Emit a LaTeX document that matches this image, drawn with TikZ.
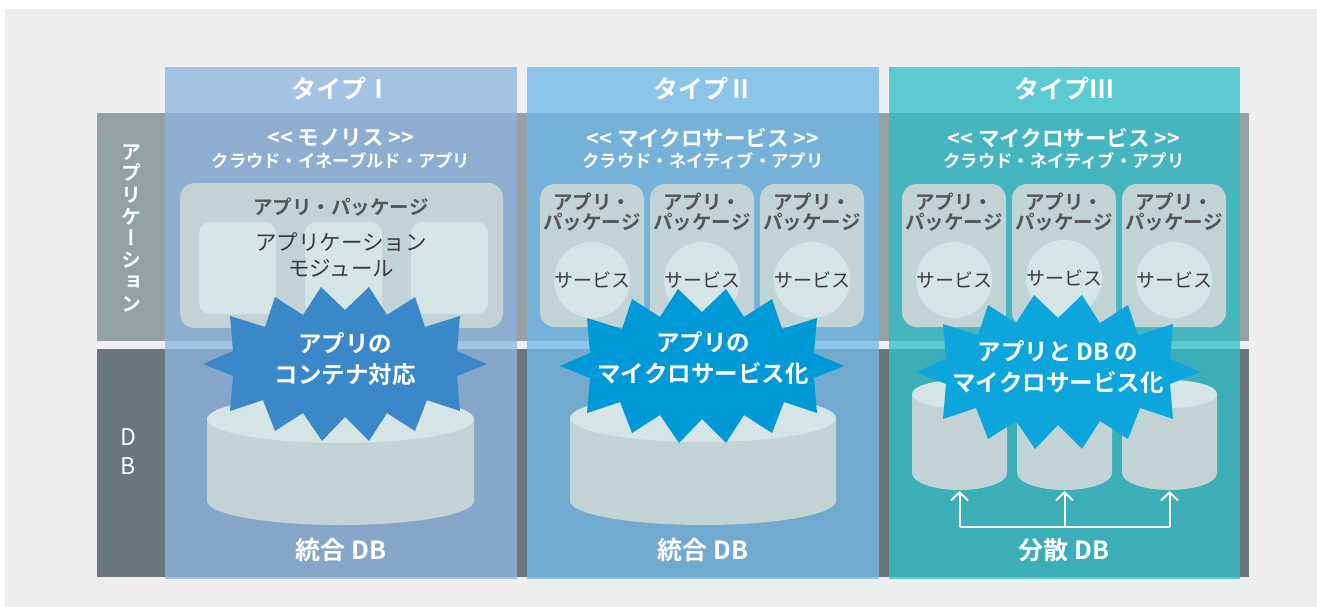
\documentclass[tikz,border=0pt]{standalone}
\usepackage{fontspec}
\setmainfont{Noto Sans CJK JP}[BoldFont={Noto Sans CJK JP Bold}]
\newfontfamily\vertjp{Noto Sans CJK JP Bold}[RawFeature=+vert]
\usetikzlibrary{calc,arrows.meta}

\definecolor{panel}{HTML}{EEEEEE}
\definecolor{bandapp}{HTML}{93A1A1}
\definecolor{banddb}{HTML}{69777B}
\definecolor{hdrA}{HTML}{A4C2E2}
\definecolor{upA}{HTML}{8FADD1}
\definecolor{lowA}{HTML}{86A6C9}
\definecolor{hdrB}{HTML}{8DC5E8}
\definecolor{upB}{HTML}{76B2D8}
\definecolor{lowB}{HTML}{72A9CF}
\definecolor{hdrC}{HTML}{5BCAD3}
\definecolor{upC}{HTML}{45B6C0}
\definecolor{lowC}{HTML}{3CAEB7}
\definecolor{pkg}{HTML}{C1D3D4}
\definecolor{pkglight}{HTML}{D5E4E5}
\definecolor{burstA}{HTML}{3B88C9}
\definecolor{burstB}{HTML}{0099D8}
\definecolor{burstC}{HTML}{0CA6DD}
\definecolor{pkgtext}{HTML}{555555}
\definecolor{modtext}{HTML}{3B3B3B}

% column: left, right, header colour, upper colour, lower colour
\newcommand{\typecolumn}[5]{%
  \fill[#3] (#1,67) rectangle (#2,113);
  \fill[#4] (#1,113) rectangle (#2,341);
  \fill[#3] (#1,341) rectangle (#2,349);
  \fill[#5] (#1,349) rectangle (#2,577);
  \fill[#3] (#1,577) rectangle (#2,579);
}
% cylinder: centre x, radius x, top y, bottom y, top radius y, bottom radius y
\newcommand{\dbcylinder}[6]{%
  \fill[pkg] ({#1-#2},#3) -- ({#1-#2},#4)
    arc[start angle=180, end angle=360, x radius=#2pt, y radius=#6pt]
    -- ({#1+#2},#3) -- cycle;
  \fill[pkglight] (#1,#3) ellipse [x radius=#2pt, y radius=#5pt];
}
% starburst around a named centre
\newcommand{\starburst}[2]{%
  \fill[#2, shift={(#1)}]
    (142,0) -- (112,-13) -- (115,-48) -- (80,-37) -- (70,-67) -- (42,-49)
    -- (24,-77) -- (0,-54) -- (-24,-77) -- (-42,-49) -- (-70,-67)
    -- (-80,-37) -- (-115,-48) -- (-112,-13) -- (-142,0) -- (-112,12)
    -- (-115,47) -- (-82,36) -- (-70,67) -- (-42,49) -- (-23,77)
    -- (0,53) -- (24,77) -- (42,49) -- (70,67) -- (82,36) -- (115,47)
    -- (112,12) -- cycle;
}

\tikzset{
  title/.style={text=white, font=\bfseries\fontsize{25}{28}\selectfont, inner sep=0pt},
  kind/.style={text=white, font=\bfseries\fontsize{21.5}{24}\selectfont, inner sep=0pt},
  kindsub/.style={text=white, font=\bfseries\fontsize{17.3}{20}\selectfont, inner sep=0pt},
  pkglabel/.style={text=pkgtext, font=\bfseries\fontsize{19.5}{20}\selectfont, align=center, inner sep=0pt},
  modlabel/.style={text=modtext, font=\fontsize{21.5}{26}\selectfont, align=center, inner sep=0pt},
  svclabel/.style={text=modtext, font=\fontsize{19}{22}\selectfont, inner sep=0pt},
  burstlabel/.style={text=white, font=\bfseries\fontsize{23.5}{31}\selectfont, align=center, inner sep=0pt},
  dblabel/.style={text=white, font=\bfseries\fontsize{25}{28}\selectfont, inner sep=0pt},
  rowlabel/.style={text=white, align=center, inner sep=0pt},
  uparrow/.style={white, line width=2pt, -{Straight Barb[length=8pt, width=17pt, line width=2pt]}},
}

\begin{document}
\begin{tikzpicture}[x=1pt, y=-1pt]
\useasboundingbox (0,0) rectangle (1317,607);
\fill[white] (0,0) rectangle (1317,607);
\fill[panel] (5,9) rectangle (1317,607);

% row bands
\fill[bandapp] (97,113) rectangle (1249,341);
\fill[banddb] (97,349) rectangle (1249,577);

% row labels
\node[rowlabel, font=\vertjp\fontsize{20}{21.7}\selectfont] (rowapp) at (131,228)
  {ア\\プ\\リ\\ケ\\ー\\シ\\ョ\\ン};
\node[rowlabel, font=\fontsize{23}{29}\selectfont] (rowdb) at (128,452) {D\\B};

% columns
\typecolumn{165}{517}{hdrA}{upA}{lowA}
\typecolumn{527}{879}{hdrB}{upB}{lowB}
\typecolumn{889}{1240}{hdrC}{upC}{lowC}

% headings
\node[title] (t1) at (341,89) {タイプⅠ};
\node[title] (t2) at (703,89) {タイプⅡ};
\node[title] (t3) at (1064,89) {タイプⅢ};

\node[kind] (k1) at (341,138) {<{}< モノリス >{}>};
\node[kindsub] (s1) at (341,161) {クラウド・イネーブルド・アプリ};
\node[kind] (k2) at (703,138) {<{}< マイクロサービス >{}>};
\node[kindsub] (s2) at (703,161) {クラウド・ネイティブ・アプリ};
\node[kind] (k3) at (1064,138) {<{}< マイクロサービス >{}>};
\node[kindsub] (s3) at (1064,161) {クラウド・ネイティブ・アプリ};

% type I: monolithic package
\fill[pkg, rounded corners=15pt] (180,183) rectangle (503,328);
\fill[pkglight, rounded corners=11pt] (199,222) rectangle (276,314);
\fill[pkglight, rounded corners=11pt] (305,222) rectangle (382,314);
\fill[pkglight, rounded corners=11pt] (411,222) rectangle (488,314);
\node[pkglabel] (p1) at (341,207) {アプリ・パッケージ};
\node[modlabel] (m1) at (341,255) {アプリケーション\\モジュール};

% type II and III: one package per service
\foreach \cx/\cy/\nm in {592/280/b1, 702/280/b2, 812/280/b3,
                         954/280/c1, 1064/278/c2, 1174/280/c3}{
  \fill[pkg, rounded corners=15pt] ({\cx-52},184) rectangle ({\cx+52},327);
  \fill[pkglight] (\cx,\cy) circle[radius=38pt];
  \node[pkglabel] (pk\nm) at (\cx,212) {アプリ・\\パッケージ};
  \node[svclabel] (sv\nm) at (\cx,\cy) {サービス};
}

% databases
\dbcylinder{340.5}{133.5}{419}{501}{24}{24}
\dbcylinder{703}{133}{418}{501}{24}{24}
\dbcylinder{959.5}{47.5}{394}{473}{14}{17}
\dbcylinder{1064.5}{47.5}{394}{473}{14}{17}
\dbcylinder{1169.5}{47.5}{394}{473}{14}{17}

% starbursts
\coordinate (ca) at (345,364);
\coordinate (cb) at (702,366);
\coordinate (cc) at (1058,372);
\starburst{ca}{burstA}
\starburst{cb}{burstB}
\starburst{cc}{burstC}
\node[burstlabel] (x1) at (345,359) {アプリの\\コンテナ対応};
\node[burstlabel] (x2) at (703,358) {アプリの\\マイクロサービス化};
\node[burstlabel] (x3) at (1058,367) {アプリと DB の\\マイクロサービス化};

% distributed DB links
\coordinate (ja) at (959.5,527);
\coordinate (jb) at (1064.5,527);
\coordinate (jc) at (1169.5,527);
\coordinate (ea) at (959.5,491);
\coordinate (eb) at (1064.5,491);
\coordinate (ec) at (1169.5,491);
\draw[white, line width=2pt] (ja) -- (jc);
\draw[uparrow] (ja) -- (ea);
\draw[uparrow] (jb) -- (eb);
\draw[uparrow] (jc) -- (ec);

% database labels
\node[dblabel] (d1) at (341,550) {統合 DB};
\node[dblabel] (d2) at (703,550) {統合 DB};
\node[dblabel] (d3) at (1064,550) {分散 DB};
\end{tikzpicture}
\end{document}
